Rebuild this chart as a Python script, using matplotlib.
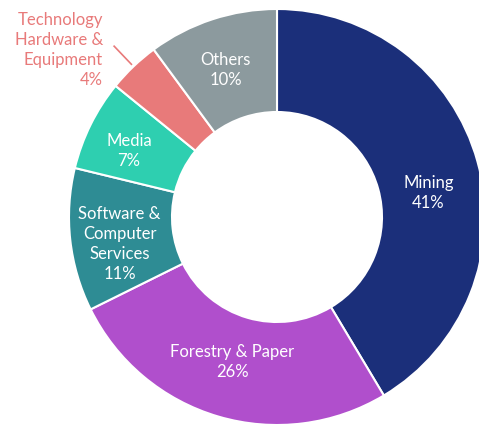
import numpy as np
import matplotlib
matplotlib.use("Agg")
import matplotlib.pyplot as plt

categories = ["Mining", "Forestry & Paper", "Software &\nComputer\nServices", "Media",
              "Technology\nHardware &\nEquipment", "Others"]
values = [41, 26, 11, 7, 4, 10]
colors = ["#1b2f7a", "#b04fcc", "#2e8c94", "#2ecfb0", "#e87a7a", "#8c9a9e"]

plt.rcParams['font.family'] = ['Lato', 'DejaVu Sans']

W, H = 479, 427
fig = plt.figure(figsize=(W / 100, H / 100), dpi=100)
ax = fig.add_axes([0, 0, 1, 1])

cx, cy, R = 277, H - 218, 208
inner = 105
wedges, _ = ax.pie(values, colors=colors, startangle=90, counterclock=False,
                   center=(cx, cy), radius=R, frame=True,
                   wedgeprops=dict(width=R - inner, edgecolor='white', linewidth=1.5))
ax.set_xlim(0, W)
ax.set_ylim(0, H)
ax.set_aspect('equal')
ax.axis('off')

angle_adj = [-6, -1, 3, 2, 0, 1]
radius_adj = [-3, -6, 3, 6, 0, 0]
for i, (w, lab, v) in enumerate(zip(wedges, categories, values)):
    mid = np.deg2rad((w.theta1 + w.theta2) / 2)
    text = f"{lab}\n{v}%"
    if i == 4:
        x0 = cx + (R + 3) * np.cos(mid); y0 = cy + (R + 3) * np.sin(mid)
        x1 = cx + (R + 28) * np.cos(mid); y1 = cy + (R + 28) * np.sin(mid)
        ax.plot([x0, x1], [y0, y1], color=colors[i], lw=1.2)
        ax.text(103, H - 50, text, ha='right', va='center', color=colors[i],
                fontsize=12, linespacing=1.3)
    else:
        r = (R + inner) / 2 + radius_adj[i]
        m = mid + np.deg2rad(angle_adj[i])
        ax.text(cx + r * np.cos(m), cy + r * np.sin(m), text, ha='center', va='center',
                color='white', fontsize=12, linespacing=1.3)

fig.savefig("out.png", dpi=100, facecolor='white')
